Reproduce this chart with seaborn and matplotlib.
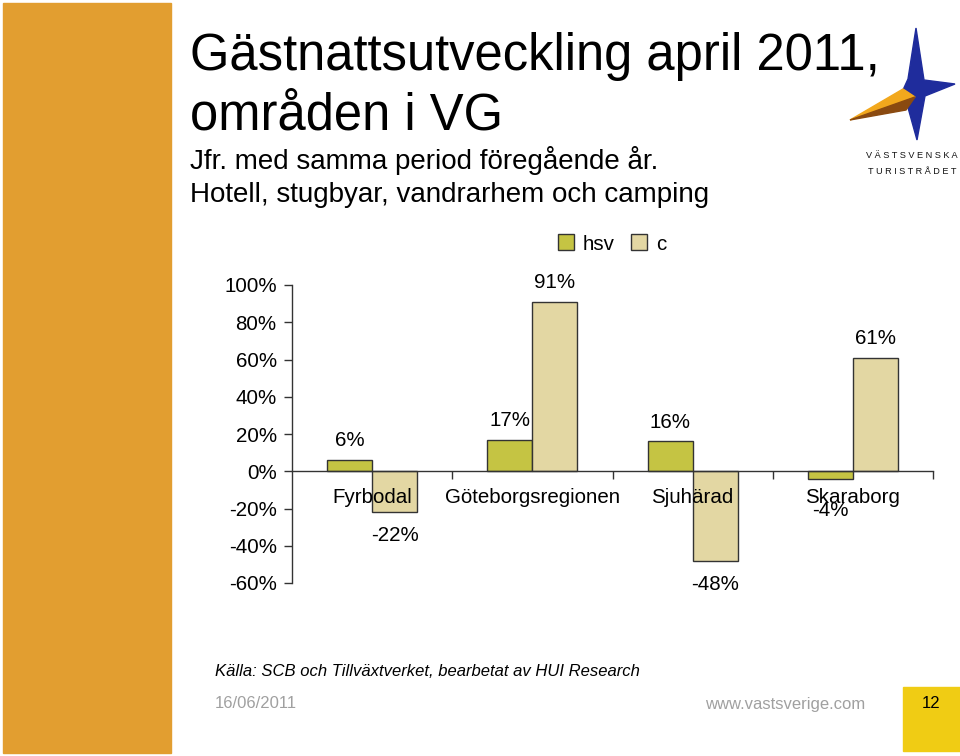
import matplotlib
matplotlib.use("Agg")
import matplotlib.pyplot as plt
from matplotlib.patches import Rectangle, Polygon
import seaborn as sns
import pandas as pd

categories = ["Fyrbodal", "Göteborgsregionen", "Sjuhärad", "Skaraborg"]
hsv_values = [6, 17, 16, -4]
c_values = [-22, 91, -48, 61]
series_names = ["hsv", "c"]
y_ticks = [-60, -40, -20, 0, 20, 40, 60, 80, 100]

df = pd.DataFrame({
    "område": categories * 2,
    "serie": [series_names[0]] * len(categories) + [series_names[1]] * len(categories),
    "värde": hsv_values + c_values,
})

sns.set_theme(style="white")
plt.rcParams["font.family"] = ["Liberation Sans", "DejaVu Sans"]
plt.rcParams["text.color"] = "black"
plt.rcParams["xtick.color"] = "black"
plt.rcParams["ytick.color"] = "black"
plt.rcParams["axes.labelcolor"] = "black"

W, H = 960, 756
fig = plt.figure(figsize=(9.6, 7.56), dpi=100)

def fx(x):
    return x / W

def fy(y):
    return 1 - y / H

# decorations
fig.patches.append(Rectangle((fx(3), fy(753)), fx(168), 750 / H, transform=fig.transFigure,
                             color="#E29E30", zorder=0))
fig.patches.append(Rectangle((fx(903), fy(751)), fx(57), 64 / H, transform=fig.transFigure,
                             color="#F0CC14", zorder=0))

# logo
star = [(916, 28), (924, 80), (955, 84), (925, 96), (917, 140), (907, 104), (903, 90), (908, 79)]
fig.patches.append(Polygon([(fx(a), fy(b)) for a, b in star], closed=True,
                           transform=fig.transFigure, color="#1F2C9C", zorder=1))
wedge_top = [(850, 120), (903, 89), (915, 97)]
wedge_bot = [(850, 120), (915, 97), (906, 110)]
fig.patches.append(Polygon([(fx(a), fy(b)) for a, b in wedge_top], closed=True,
                           transform=fig.transFigure, color="#F2A81D", zorder=2))
fig.patches.append(Polygon([(fx(a), fy(b)) for a, b in wedge_bot], closed=True,
                           transform=fig.transFigure, color="#8A4A10", zorder=2))
fig.text(fx(912), fy(155), " ".join("VÄSTSVENSKA"), ha="center", va="center",
         fontsize=6.6, color="#111111")
fig.text(fx(912), fy(171), " ".join("TURISTRÅDET"), ha="center", va="center",
         fontsize=6.6, color="#111111")

# titles
fig.text(fx(190), fy(70), "Gästnattsutveckling april 2011,", fontsize=36.5, va="baseline", ha="left")
fig.text(fx(190), fy(130), "områden i VG", fontsize=36.5, va="baseline", ha="left")
fig.text(fx(190), fy(169), "Jfr. med samma period föregående år.", fontsize=20, va="baseline", ha="left")
fig.text(fx(190), fy(202), "Hotell, stugbyar, vandrarhem och camping", fontsize=20, va="baseline", ha="left")

# footer
fig.text(fx(215), fy(671), "Källa: SCB och Tillväxtverket, bearbetat av HUI Research",
         fontsize=12, style="italic", va="center", ha="left")
fig.text(fx(215), fy(704), "16/06/2011", fontsize=12, color="#A0A0A0", va="center", ha="left")
fig.text(fx(865), fy(704), "www.vastsverige.com", fontsize=12, color="#A0A0A0", va="center", ha="right")
fig.text(fx(931), fy(704), "12", fontsize=12, color="black", va="center", ha="center")

# chart
ax = fig.add_axes([fx(292), fy(583), fx(933 - 292), (583 - 285) / H])
palette = {"hsv": "#C5C443", "c": "#E3D7A3"}
sns.barplot(data=df, x="område", y="värde", hue="serie", palette=palette, width=0.5625,
            edgecolor="#333333", linewidth=1.0, saturation=1, ax=ax, legend=True)
ax.set_axisbelow(False)

ax.set_xlim(-0.5, len(categories) - 0.5)
ax.set_ylim(y_ticks[0], y_ticks[-1])
ax.set_yticks(y_ticks)
ax.set_yticklabels([f"{v}%" for v in y_ticks], fontsize=14.8)
ax.set_xlabel("")
ax.set_ylabel("")

for s in ["top", "right"]:
    ax.spines[s].set_visible(False)
ax.spines["left"].set_color("#333333")
ax.spines["left"].set_linewidth(1.0)
ax.spines["bottom"].set_position(("data", 0))
ax.spines["bottom"].set_color("#333333")
ax.spines["bottom"].set_linewidth(1.0)

ax.set_xticks(range(len(categories)))
ax.set_xticklabels(categories, fontsize=14.8)
ax.set_xticks([i + 0.5 for i in range(len(categories))], minor=True)
ax.tick_params(axis="x", which="major", length=0, pad=12)
ax.tick_params(axis="x", which="minor", direction="out", length=6, width=1, color="#333333", bottom=True)
ax.tick_params(axis="y", direction="out", length=6, width=1, color="#333333", left=True, pad=5)

for cont in ax.containers:
    for bar in cont:
        h = bar.get_height()
        xc = bar.get_x() + bar.get_width() / 2
        off = 14 if h >= 0 else -17
        if -10 < h < 0:
            off = -23
        ax.annotate(f"{h:.0f}%", (xc, h), xytext=(0, off), textcoords="offset points",
                    ha="center", va="center", fontsize=14.8)

leg = ax.legend(loc="center", bbox_to_anchor=(fx(612), fy(244)), bbox_transform=fig.transFigure,
                ncol=2, frameon=False, fontsize=14.8, handlelength=0.8, handleheight=0.8,
                handletextpad=0.4, columnspacing=0.8)

fig.savefig("out.png", dpi=100)
